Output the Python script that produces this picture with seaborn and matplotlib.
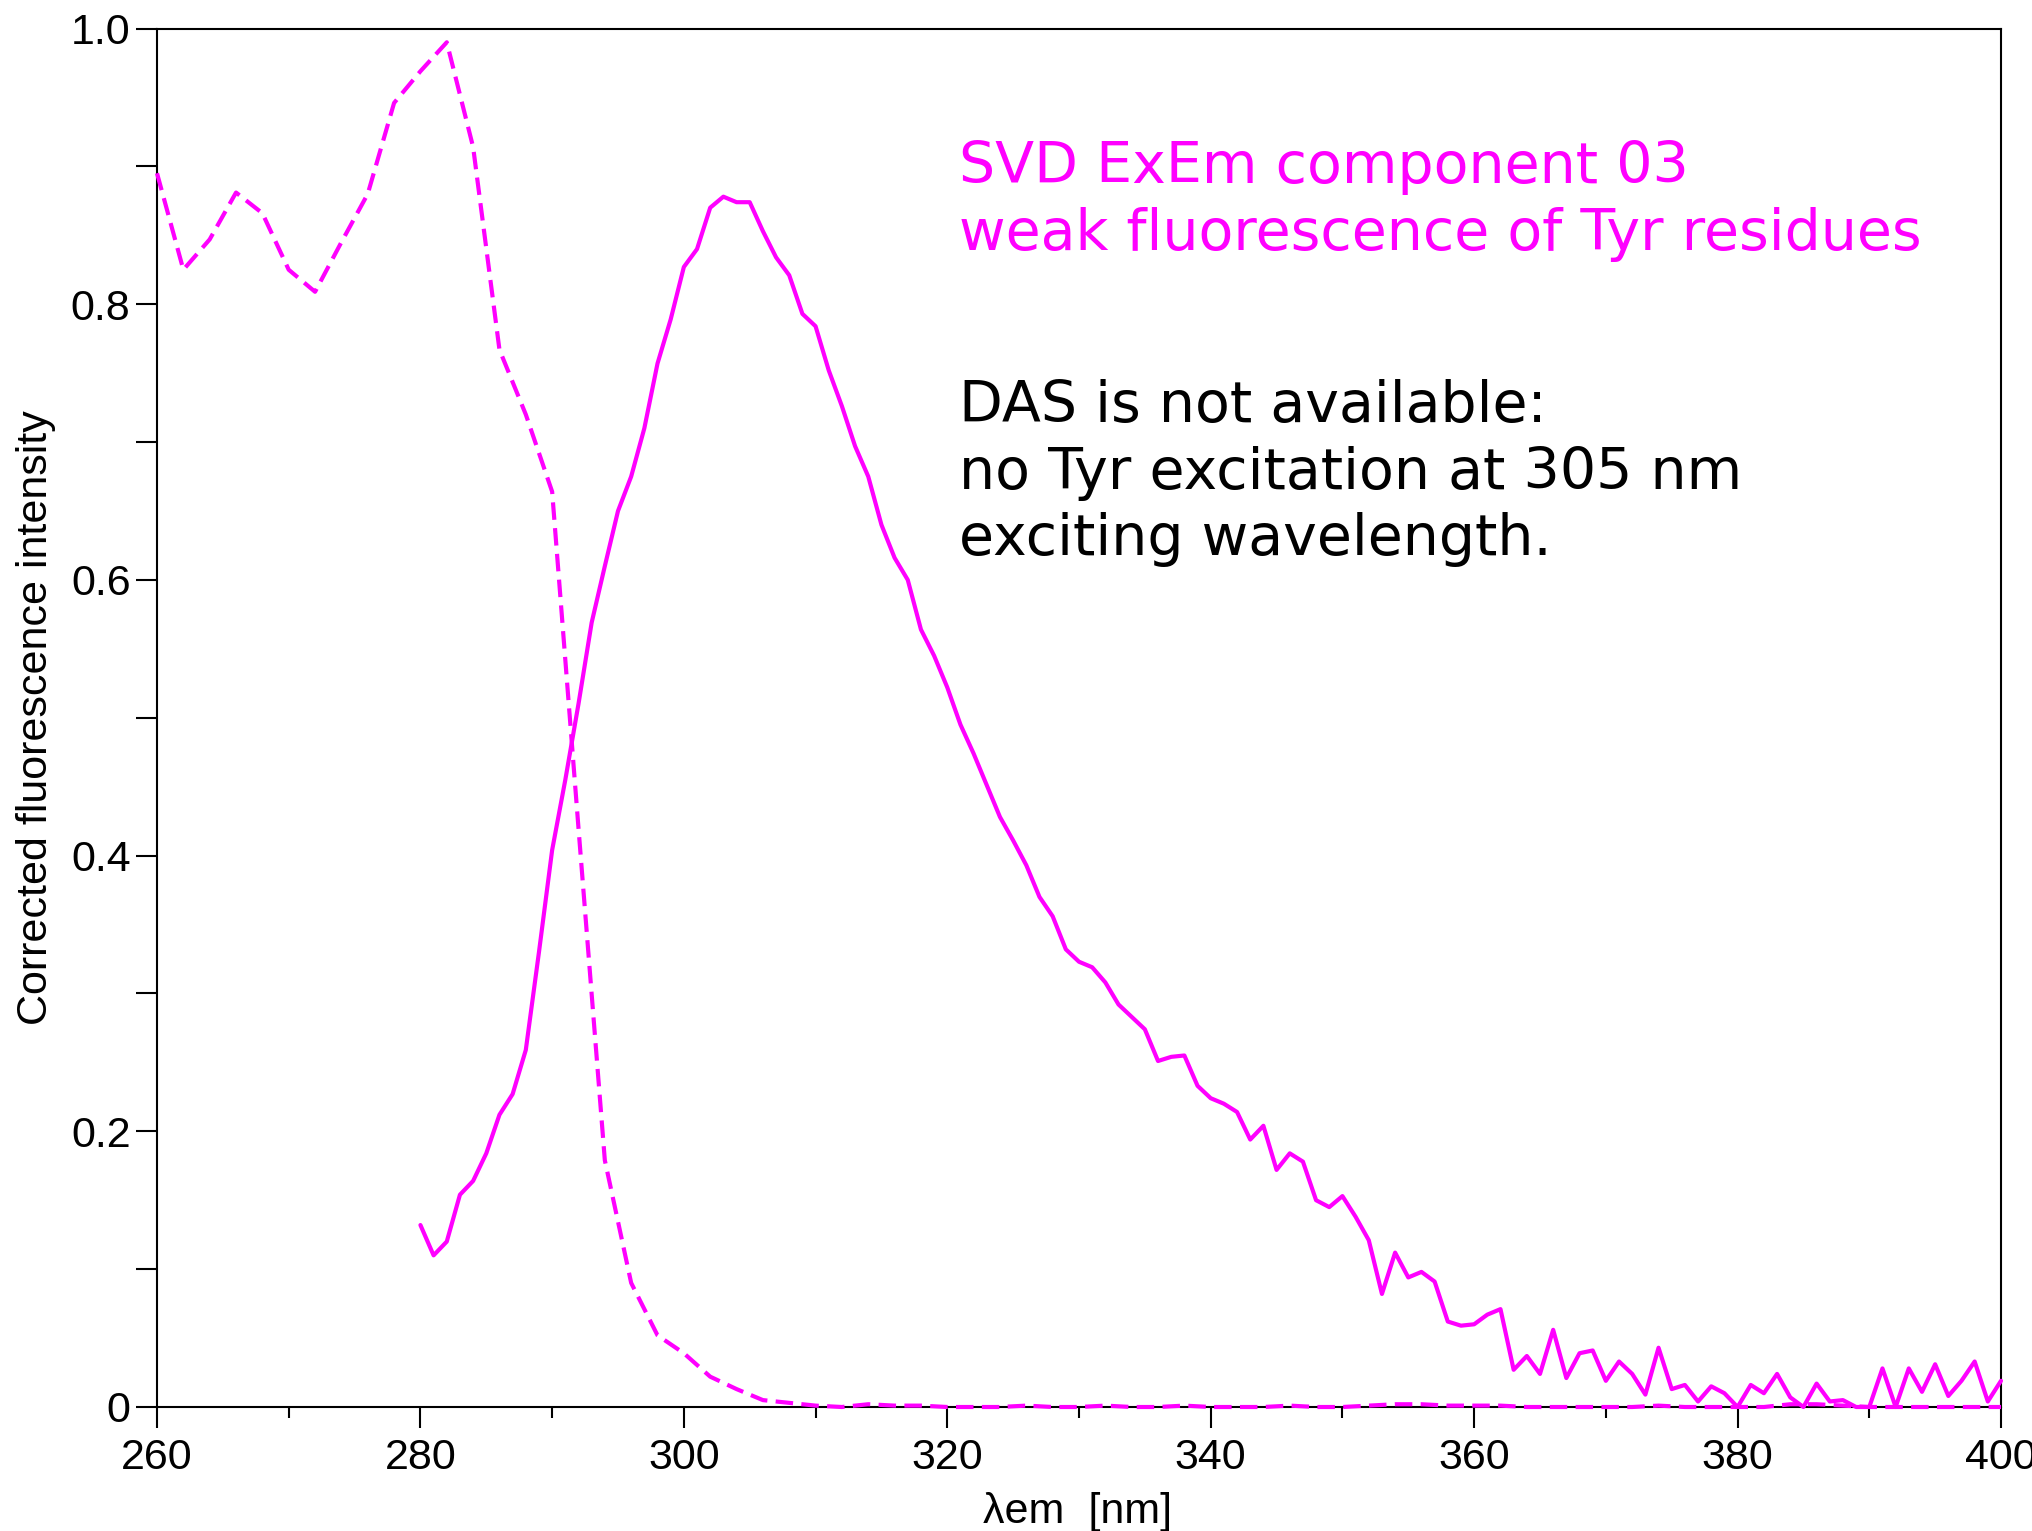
import matplotlib
matplotlib.use("Agg")
import matplotlib.pyplot as plt
import seaborn as sns
import numpy as np
import pandas as pd

# ---------------- data ----------------
ex_wavelength = list(range(260, 401, 2))
ex_intensity = [
    0.895, 0.825, 0.847, 0.881, 0.866, 0.825, 0.809, 0.845, 0.880, 0.946,
    0.969, 0.990, 0.914, 0.767, 0.720, 0.664, 0.420, 0.179, 0.090, 0.052,
    0.039, 0.022, 0.013, 0.005, 0.003, 0.001, 0.000, 0.002, 0.001, 0.001,
    0.000, 0.000, 0.000, 0.001, 0.000, 0.000, 0.001, 0.000, 0.000, 0.001,
    0.000, 0.000, 0.000, 0.001, 0.000, 0.000, 0.001, 0.002, 0.002, 0.001,
    0.001, 0.001, 0.000, 0.000, 0.000, 0.000, 0.000, 0.001, 0.000, 0.000,
    0.000, 0.000, 0.002, 0.002, 0.001, 0.000, 0.000, 0.000, 0.000, 0.000,
    0.000,
]

em_wavelength = list(range(280, 401, 1))
em_intensity = [
    0.132, 0.110, 0.120, 0.154, 0.164, 0.184, 0.212, 0.227, 0.259, 0.330,
    0.404, 0.455, 0.510, 0.569, 0.610, 0.650, 0.675, 0.710, 0.757, 0.789,
    0.827, 0.840, 0.870, 0.878, 0.874, 0.874, 0.853, 0.834, 0.821, 0.793,
    0.784, 0.752, 0.726, 0.697, 0.675, 0.640, 0.616, 0.600, 0.564, 0.545,
    0.522, 0.495, 0.474, 0.451, 0.428, 0.411, 0.393, 0.370, 0.356, 0.332,
    0.323, 0.319, 0.308, 0.292, 0.283, 0.274, 0.251, 0.254, 0.255, 0.233,
    0.224, 0.220, 0.214, 0.194, 0.204, 0.172, 0.184, 0.178, 0.150, 0.145,
    0.153, 0.138, 0.121, 0.082, 0.112, 0.094, 0.098, 0.091, 0.062, 0.059,
    0.060, 0.067, 0.071, 0.027, 0.037, 0.024, 0.056, 0.021, 0.039, 0.041,
    0.019, 0.033, 0.024, 0.009, 0.043, 0.013, 0.016, 0.004, 0.015, 0.010,
    0.000, 0.016, 0.010, 0.024, 0.007, 0.000, 0.017, 0.004, 0.005, 0.000,
    0.000, 0.028, 0.000, 0.028, 0.011, 0.031, 0.008, 0.019, 0.033, 0.004,
    0.019,
]

x_ticks = [260, 280, 300, 320, 340, 360, 380, 400]
x_tick_labels = ["260", "280", "300", "320", "340", "360", "380", "400"]
y_ticks = [0, 0.2, 0.4, 0.6, 0.8, 1.0]
y_tick_labels = ["0", "0.2", "0.4", "0.6", "0.8", "1.0"]

title_lines = ["SVD ExEm component 03", "weak fluorescence of Tyr residues"]
note_lines = ["DAS is not available:", "no Tyr excitation at 305 nm", "exciting wavelength."]
x_label = "\u03bbem  [nm]"
y_label = "Corrected fluorescence intensity"

# ---------------- style ----------------
sns.set_style("ticks")
plt.rcParams["font.family"] = ["Liberation Sans", "DejaVu Sans"]

W, H = 2033, 1531
fig = plt.figure(figsize=(W / 100, H / 100), dpi=100)
fig.patch.set_facecolor("white")

left, right, top, bottom = 157, 2001, 28.5, 1407
ax = fig.add_axes([left / W, 1 - bottom / H, (right - left) / W, (bottom - top) / H])
ax.set_facecolor("white")

magenta = "#ff00ff"
lw = 3.0

df_ex = pd.DataFrame({"wl": ex_wavelength, "val": ex_intensity})
df_em = pd.DataFrame({"wl": em_wavelength, "val": em_intensity})

sns.lineplot(data=df_ex, x="wl", y="val", ax=ax, color=magenta, linewidth=lw,
             estimator=None, clip_on=False, zorder=5)
line_ex = ax.lines[-1]
line_ex.set_linestyle((0, (4.2, 2.0)))
sns.lineplot(data=df_em, x="wl", y="val", ax=ax, color=magenta, linewidth=lw,
             estimator=None, clip_on=False, zorder=5)

ax.set_xlim(260, 400)
ax.set_ylim(0, 1.0)
ax.set_xticks(x_ticks)
ax.set_xticklabels(x_tick_labels)
ax.set_yticks(y_ticks)
ax.set_yticklabels(y_tick_labels)
ax.set_xticks(np.arange(270, 400, 20), minor=True)
ax.set_yticks(np.arange(0.1, 1.0, 0.2), minor=True)
ax.set_xlabel("")
ax.set_ylabel("")

for s in ax.spines.values():
    s.set_visible(True)
    s.set_linewidth(1.5)
    s.set_color("black")

ax.tick_params(axis="both", which="major", direction="out", length=15, width=1.5,
               color="black", labelsize=31, labelcolor="black")
ax.tick_params(axis="x", which="major", pad=7)
ax.tick_params(axis="y", which="major", pad=4)
ax.tick_params(axis="x", which="minor", direction="out", length=8, width=1.5, color="black")
ax.tick_params(axis="y", which="minor", direction="out", length=15, width=1.5, color="black")
ax.tick_params(top=False, right=False, which="both")

# axis labels
fig.text(1078 / W, 1 - 1523 / H, x_label, ha="center", va="baseline", fontsize=31,
         color="black")
fig.text(36 / W, 1 - 717.5 / H, y_label, ha="center", va="center", rotation=90,
         rotation_mode="anchor", fontsize=31, color="black")

# annotations
tx = 959 / W
for txt, base in zip(title_lines, [183, 250]):
    fig.text(tx, 1 - base / H, txt, ha="left", va="baseline", fontsize=41,
             color=magenta, family=["DejaVu Sans"])
for txt, base in zip(note_lines, [422, 489, 555]):
    fig.text(tx, 1 - base / H, txt, ha="left", va="baseline", fontsize=41,
             color="black", family=["DejaVu Sans"])

fig.savefig("out.png", dpi=100, facecolor="white")
